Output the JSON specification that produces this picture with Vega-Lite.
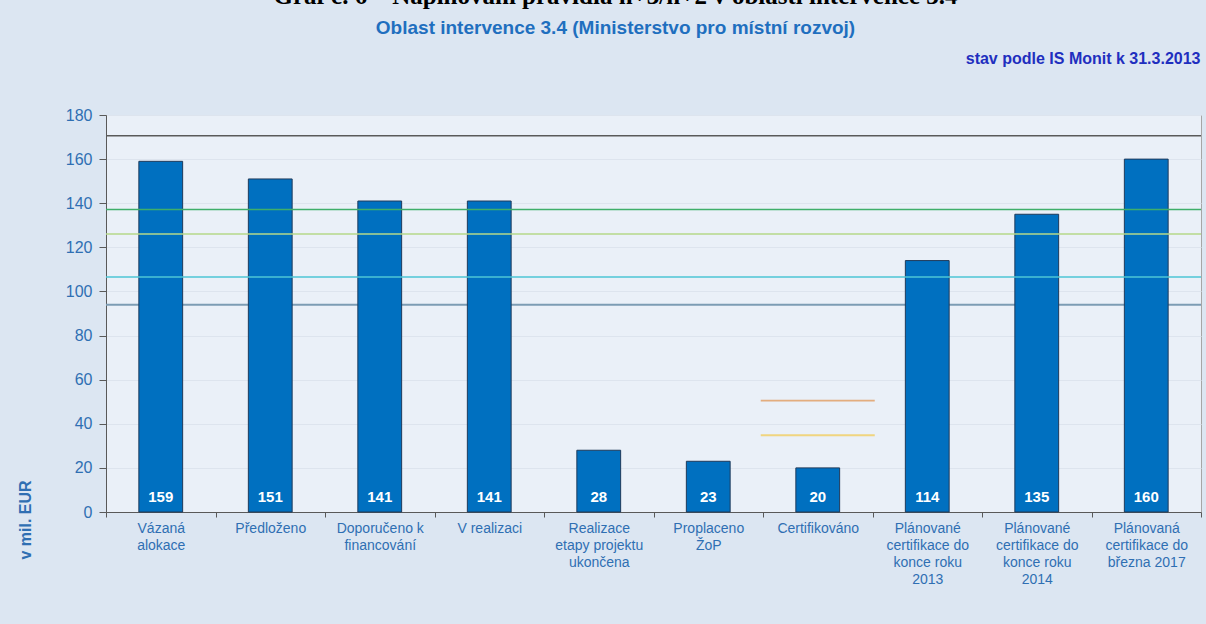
{
  "$schema": "https://vega.github.io/schema/vega-lite/v6.json",
  "autosize": {"type": "none"},
  "width": 1095,
  "height": 397,
  "padding": {"left": 106, "top": 115, "right": 5, "bottom": 112},
  "background": "#dce6f2",
  "title": {
    "text": "Graf č. 6     –     Naplňování pravidla n+3/n+2 v oblasti intervence 3.4",
    "font": "Liberation Serif",
    "fontSize": 25,
    "fontWeight": "bold",
    "color": "#000000",
    "subtitle": "Oblast intervence 3.4 (Ministerstvo pro místní rozvoj)",
    "subtitleFont": "Liberation Sans",
    "subtitleFontSize": 19,
    "subtitleFontWeight": "bold",
    "subtitleColor": "#1f6fbf",
    "subtitlePadding": 10,
    "anchor": "middle",
    "frame": "group",
    "dx": -38,
    "offset": 12
  },
  "datasets": {
    "bars": [
      {"category": "Vázaná|alokace", "value": 159},
      {"category": "Předloženo", "value": 151},
      {"category": "Doporučeno k|financování", "value": 141},
      {"category": "V realizaci", "value": 141},
      {"category": "Realizace|etapy projektu|ukončena", "value": 28},
      {"category": "Proplaceno|ŽoP", "value": 23},
      {"category": "Certifikováno", "value": 20},
      {"category": "Plánované|certifikace do|konce roku|2013", "value": 114},
      {"category": "Plánované|certifikace do|konce roku|2014", "value": 135},
      {"category": "Plánovaná|certifikace do|března 2017", "value": 160}
    ],
    "lines": [
      {"level": "L1", "value": 170.6},
      {"level": "L2", "value": 137.2},
      {"level": "L3", "value": 126.0},
      {"level": "L4", "value": 106.5},
      {"level": "L5", "value": 94.0}
    ],
    "partial": [
      {"level": "L6", "value": 50.5, "category": "Certifikováno"},
      {"level": "L7", "value": 34.8, "category": "Certifikováno"}
    ]
  },
  "resolve": {"axis": {"x": "independent"}},
  "layer": [
    {
      "data": {"name": "lines"},
      "transform": [{"filter": "datum.level == 'L5'"}],
      "mark": {"type": "rule", "strokeWidth": 2},
      "encoding": {
        "y": {"field": "value", "type": "quantitative", "scale": {"domain": [0, 180]}},
        "color": {"field": "level", "type": "nominal", "legend": null,
          "scale": {"domain": ["L1", "L2", "L3", "L4", "L5", "L6", "L7"],
                    "range": ["#5a5a5a", "#3fae6a", "#b4d88a", "#4cc6d6", "#7c9cb4", "#e0904a", "#f2c94c"]}}
      }
    },
    {
      "data": {"name": "bars"},
      "mark": {"type": "bar", "color": "#0070c0", "stroke": "#1f3a5a", "strokeWidth": 1, "width": {"band": 0.4}},
      "encoding": {
        "x": {"field": "category", "type": "nominal", "sort": null,
          "scale": {"paddingInner": 0, "paddingOuter": 0},
          "axis": {"orient": "bottom", "title": null, "labelAngle": 0, "labelExpr": "split(datum.label, '|')",
            "labelFontSize": 14, "labelColor": "#2f6fb3", "labelFont": "Liberation Sans",
            "labelLineHeight": 17, "labelPadding": 4, "labelBaseline": "top",
            "tickBand": "extent", "tickSize": 5, "tickColor": "#595959", "domainColor": "#595959"}},
        "y": {"field": "value", "type": "quantitative", "scale": {"domain": [0, 180]},
          "axis": {"title": "v mil. EUR", "values": [0, 20, 40, 60, 80, 100, 120, 140, 160, 180],
            "grid": true, "gridColor": "#dde4ee", "labelFontSize": 16, "labelColor": "#2f6fb3",
            "labelFont": "Liberation Sans", "tickSize": 7, "labelPadding": 7, "tickColor": "#595959",
            "domainColor": "#595959", "titleFont": "Liberation Sans", "titleFontSize": 16,
            "titleFontWeight": "bold", "titleColor": "#2f6fb3", "titleAngle": 270,
            "titleX": -81, "titleY": 444, "titleAlign": "left", "titleBaseline": "middle"}}
      }
    },
    {
      "data": {"name": "lines"},
      "transform": [{"filter": "datum.level != 'L5'"}],
      "mark": {"type": "rule", "strokeWidth": 1.5},
      "encoding": {
        "y": {"field": "value", "type": "quantitative"},
        "color": {"field": "level", "type": "nominal", "legend": null}
      }
    },
    {
      "data": {"name": "bars"},
      "mark": {"type": "text", "color": "white", "fontWeight": "bold", "fontSize": 15, "font": "Liberation Sans", "baseline": "alphabetic", "dy": -10},
      "encoding": {
        "x": {"field": "category", "type": "nominal", "sort": null, "axis": null},
        "y": {"datum": 0, "type": "quantitative"},
        "text": {"field": "value", "type": "quantitative"}
      }
    },
    {
      "data": {"name": "partial"},
      "mark": {"type": "tick", "size": 114, "thickness": 1.8, "orient": "horizontal"},
      "encoding": {
        "x": {"field": "category", "type": "nominal", "sort": null,
          "axis": {"orient": "top", "labels": false, "ticks": false, "domain": false, "grid": false,
            "title": "stav podle IS Monit k 31.3.2013", "titleFont": "Liberation Sans",
            "titleFontSize": 16, "titleFontWeight": "bold", "titleColor": "#1f2fbf",
            "titleX": 1094, "titleY": -52, "titleAlign": "right", "titleBaseline": "alphabetic"}},
        "y": {"field": "value", "type": "quantitative"},
        "color": {"field": "level", "type": "nominal", "legend": null}
      }
    }
  ],
  "config": {
    "view": {"fill": "#eaf0f8", "stroke": "#a6a6a6"},
    "font": "Liberation Sans"
  }
}
